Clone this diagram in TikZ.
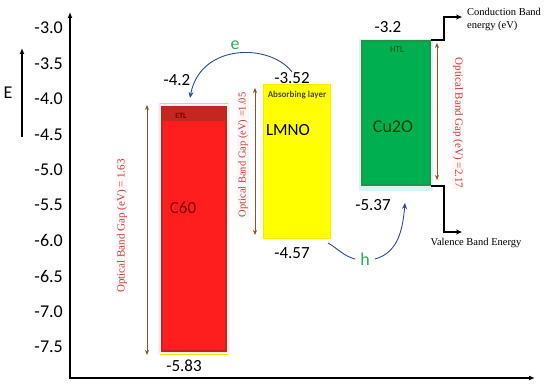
\documentclass[tikz,border=0pt]{standalone}
\usepackage{fontspec}
\setmainfont{Liberation Serif}
\newfontfamily\calibri{Carlito}
\usetikzlibrary{arrows.meta, positioning}
\definecolor{c60red}{RGB}{255,30,30}
\definecolor{c60edge}{RGB}{185,40,35}
\definecolor{lmnoyellow}{RGB}{255,255,0}
\definecolor{cuogreen}{RGB}{0,176,80}
\definecolor{cuoedge}{RGB}{40,145,70}
\definecolor{gapbrown}{RGB}{150,80,40}
\definecolor{gapred}{RGB}{195,60,60}
\definecolor{carrierblue}{RGB}{45,75,155}
\definecolor{carriergreen}{RGB}{50,170,90}

\begin{document}
\begin{tikzpicture}[x=1pt, y=1pt,
  tick/.style={anchor=east, inner sep=0pt, font=\calibri\fontsize{18}{20}\selectfont},
  level/.style={inner sep=0pt, font=\calibri\fontsize{17}{19}\selectfont},
  band/.style={rectangle, line width=1.8pt, inner sep=0pt},
  halo/.style={rectangle, inner sep=0pt},
  tag/.style={inner sep=0pt, font=\calibri\bfseries\fontsize{#1}{#1}\selectfont},
  axis/.style={line width=1.8pt, {Latex[length=6pt,width=5pt]}-{Latex[length=6pt,width=5pt]}},
  gap/.style={{Stealth[length=5pt,width=4pt]}-{Stealth[length=5pt,width=4pt]}, draw=gapbrown, line width=0.7pt},
  gaptext/.style={inner sep=1pt, text=gapred, fill=pink!12, font=\fontsize{11}{12}\selectfont},
  carrier/.style={-{Stealth[length=6pt,width=5pt]}, draw=carrierblue, line width=0.9pt},
  carrierlabel/.style={inner sep=5pt, text=carriergreen, font=\calibri\fontsize{18}{20}\selectfont},
  lead/.style={line width=1.6pt, -{Stealth[length=6pt,width=5pt]}},
  note/.style={inner sep=0pt, align=left, font=\fontsize{10.5}{13}\selectfont}
]
\useasboundingbox (0,0) rectangle (550,388);

% axes
\coordinate (o) at (70,10);
\coordinate (ytop) at (70,376);
\coordinate (xend) at (535,10);
\draw[axis] (ytop) -- (o) -- (xend);
\foreach \v [count=\i from 0] in {-3.0,-3.5,-4.0,-4.5,-5.0,-5.5,-6.0,-6.5,-7.0,-7.5}
  \node[tick] (tick\i) at (63, 360-35.45*\i) {\v};

\coordinate (ebot) at (22,251);
\coordinate (etop) at (22,340);
\draw[line width=1.8pt, -{Latex[length=6pt,width=5pt]}] (ebot) -- (etop);
\node[tick, anchor=center] (elabel) at (8,295) {E};

% C60 (ETL)
\node[halo, fill=pink!25, minimum width=72pt, minimum height=252pt] (c60halo) at (194,159) {};
\node[band, fill=c60red, draw=c60edge, minimum width=64pt, minimum height=244pt] (c60) at (194,159) {};
\fill[c60edge!85!c60red] (163,267) rectangle (225,280);
\draw[yellow!80!orange, line width=1pt] (160,284.5) -- (228,284.5);
\draw[yellow!80!orange, line width=1pt] (160,33.5) -- (228,33.5);
\node[tag=8, text=red!45!black] (etl) at (181,272) {ETL};
\node[level, text=red!50!black] (c60name) at (183,180) {C60};
\node[level] (c60top) at (177,308) {-4.2};
\node[level] (c60bot) at (184,22) {-5.83};
\coordinate (g1top) at (147,283);
\coordinate (g1bot) at (147,33);
\draw[gap] (g1top) -- (g1bot);
\node[gaptext, rotate=90] (g1label) at (122,162) {Optical Band Gap (eV) = 1.63};

% LMNO (absorber)
\node[halo, fill=pink!10, minimum width=73pt, minimum height=160pt] (lmnohalo) at (296.5,227) {};
\node[band, fill=lmnoyellow, draw=yellow!90!orange, line width=0.6pt, minimum width=67pt, minimum height=154pt] (lmno) at (296.5,227) {};
\node[tag=9, text=black!80!yellow] (absorb) at (297,293) {Absorbing layer};
\node[level] (lmnoname) at (288,258) {LMNO};
\node[level] (lmnotop) at (292,310) {-3.52};
\node[level] (lmnobot) at (292,135) {-4.57};
\coordinate (g2top) at (255,300);
\coordinate (g2bot) at (255,153);
\draw[gap] (g2top) -- (g2bot);
\node[gaptext, rotate=90, font=\fontsize{10.5}{12}\selectfont] (g2label) at (243,233) {Optical Band Gap (eV) =1.05};

% Cu2O (HTL)
\node[halo, fill=cyan!15, minimum width=74pt, minimum height=152pt] (cuohalo) at (396,273) {};
\node[band, fill=cuogreen, draw=cuoedge, minimum width=68pt, minimum height=144pt] (cuo) at (396,275) {};
\node[tag=9, text=green!35!black, font=\calibri\fontsize{9}{9}\selectfont] (htl) at (397,338) {HTL};
\node[level, text=green!25!black, font=\calibri\fontsize{18}{20}\selectfont] (cuoname) at (393,261) {Cu2O};
\node[level] (cuotop) at (388,361) {-3.2};
\node[level] (cuobot) at (373,183) {-5.37};
\coordinate (g3top) at (437,345);
\coordinate (g3bot) at (437,208);
\draw[gap] (g3top) -- (g3bot);
\node[gaptext, rotate=-90] (g3label) at (458,265) {Optical Band Gap (eV) =2.17};

% band edge notes
\coordinate (cbend) at (462,371);
\coordinate (vbend) at (462,156);
\draw[lead] (cuo.north east) -- ++(13,0) |- (cbend);
\draw[lead] (cuo.south east) -- ++(13,0) |- (vbend);
\node[note, anchor=west] (cbnote) at (467,369) {Conduction Band\\energy (eV)};
\node[note] (vbnote) at (476,145) {Valence Band Energy};

% carriers
\coordinate (estart) at (292,316);
\coordinate (eend) at (190,290);
\draw[carrier] (estart) .. controls (270,345) and (200,345) .. (eend);
\node[carrierlabel] (ecarrier) at (235,343) {e};

\coordinate (hstart) at (328,145);
\coordinate (hend) at (405,185);
\node[carrierlabel] (hcarrier) at (365,129) {h};
\draw[carrier, -] (hstart) to[out=-30, in=165] (hcarrier.west);
\draw[carrier] (hcarrier.east) to[out=15, in=-95] (hend);

\end{tikzpicture}
\end{document}
